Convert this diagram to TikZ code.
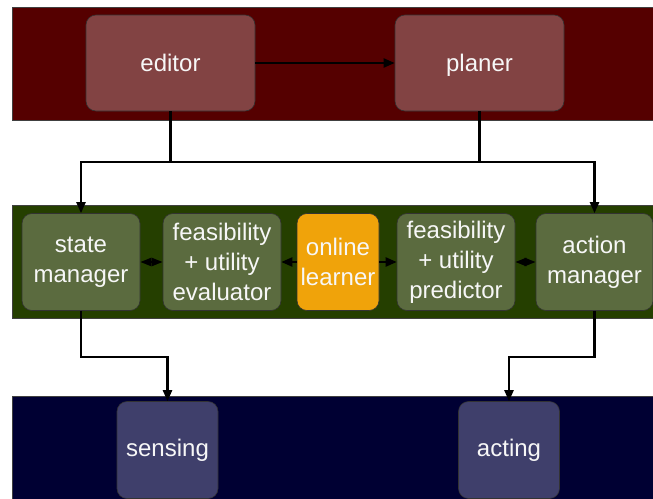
\documentclass[tikz,border=0pt]{standalone}
\usepackage{fontspec}
\setmainfont{Liberation Sans}
\usepackage{xcolor}
\usetikzlibrary{positioning,arrows.meta}

\definecolor{redband}{HTML}{550000}
\definecolor{redbox}{HTML}{824343}
\definecolor{greenband}{HTML}{253F00}
\definecolor{greenbox}{HTML}{5B6B3F}
\definecolor{blueband}{HTML}{000033}
\definecolor{bluebox}{HTML}{3F3F6B}
\definecolor{learnbox}{HTML}{F0A30A}

\begin{document}
\begin{tikzpicture}[
  x=1pt, y=-1pt,
  font=\fontsize{24}{30}\selectfont,
  band/.style={draw=black!75, line width=0.8pt},
  box/.style={draw=black!80, line width=0.6pt, rounded corners=10pt, align=center,
    text=white!94!gray, inner sep=0pt, minimum height=97pt},
  redb/.style={box, fill=redbox, minimum width=169pt, minimum height=96pt,
    text height=19pt, text depth=2pt},
  greenb/.style={box, fill=greenbox, minimum width=118pt},
  learnb/.style={box, fill=learnbox, minimum width=82pt},
  blueb/.style={box, fill=bluebox, minimum width=101pt},
  ln/.style={line width=2.2pt},
  ar/.style={ln, -{Triangle[length=11pt,width=9pt]}},
  dbl/.style={ln, {Triangle[length=11pt,width=8pt]}-{Triangle[length=11pt,width=8pt]}},
]
\clip (0,0) rectangle (653,498);
% --- bands ---
\draw[band, fill=redband]   (12,7)   rectangle (665,120);
\draw[band, fill=greenband] (12,205) rectangle (665,318);
\draw[band, fill=blueband]  (12,396) rectangle (665,510);
% --- top row ---
\node[redb] (editor) at (170.5,63) {editor};
\node[redb] (planer) at (479.5,63) {planer};
% --- middle row ---
\node[greenb] (sm) at (81,262)  {state\\manager};
\node[greenb] (fe) at (222,262) {feasibility\\+ utility\\evaluator};
\node[learnb] (ol) at (338,262) {online\\learner};
\node[greenb] (fp) at (456,262) {feasibility\\+ utility\\predictor};
\node[greenb, minimum width=117pt] (am) at (594.5,262) {action\\manager};
% --- bottom row ---
\node[blueb] (sensing) at (167.5,450) {sensing};
\node[blueb] (acting)  at (509,450)   {acting};
% --- connectors ---
\coordinate (bus) at (0,162);
\coordinate (low) at (0,357);
\draw[ar] (editor) -- (planer);
\draw[ar] (editor.south) -- (editor.south |- bus) -| (sm.north);
\draw[ar] (planer.south) -- (planer.south |- bus) -| (am.north);
\draw[ln] (editor.south |- bus) -- (planer.south |- bus);
\draw[dbl] (sm) -- (fe);
\draw[ar] (ol) -- (fe);
\draw[ar] (ol) -- (fp);
\draw[dbl] (fp) -- (am);
\draw[ar] (sm.south) -- (sm.south |- low) -| (sensing.north);
\draw[ar] (am.south) -- (am.south |- low) -| (acting.north);
\end{tikzpicture}
\end{document}
